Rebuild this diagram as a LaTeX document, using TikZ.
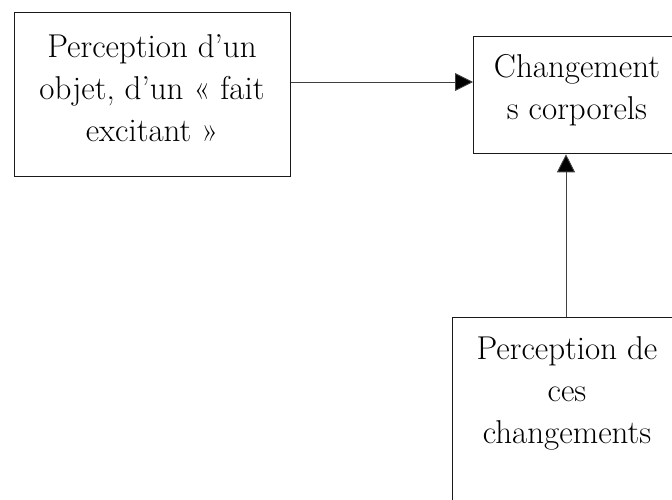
\documentclass[tikz,border=0pt]{standalone}
\usetikzlibrary{arrows.meta}
\begin{document}
\begin{tikzpicture}[x=1pt,y=-1pt,
  boxstyle/.style={draw=black!90, line width=1.3pt, inner sep=0pt, anchor=north west},
  lbl/.style={font=\fontsize{33}{42}\selectfont, align=center, inner sep=0pt, text=black},
  arr/.style={draw=black!75, line width=0.9pt, -{Triangle[length=18pt,width=18pt,fill=black]}}]
\useasboundingbox (0,0) rectangle (672,499);
\clip (0,0) rectangle (672,499);
\node[boxstyle, minimum width=276pt, minimum height=164pt] (A) at (14,12) {};
\node[boxstyle, minimum width=208pt, minimum height=117pt] (B) at (473,36) {};
\node[boxstyle, minimum width=230pt, minimum height=250pt] (C) at (452,317) {};
\node[lbl] (tA) at (152,88) {Perception d’un\\objet, d’un « fait\\excitant »};
\node[lbl] (tB) at (577,90) {Changement\\s corporels};
\node[lbl] (tC) at (567,393) {Perception de\\ces\\changements};
\coordinate (h) at (473,82);
\coordinate (v) at (566,317);
\draw[arr] (A.east |- h) -- (B.west |- h);
\draw[arr] (C.north -| v) -- (B.south -| v);
\end{tikzpicture}
\end{document}
